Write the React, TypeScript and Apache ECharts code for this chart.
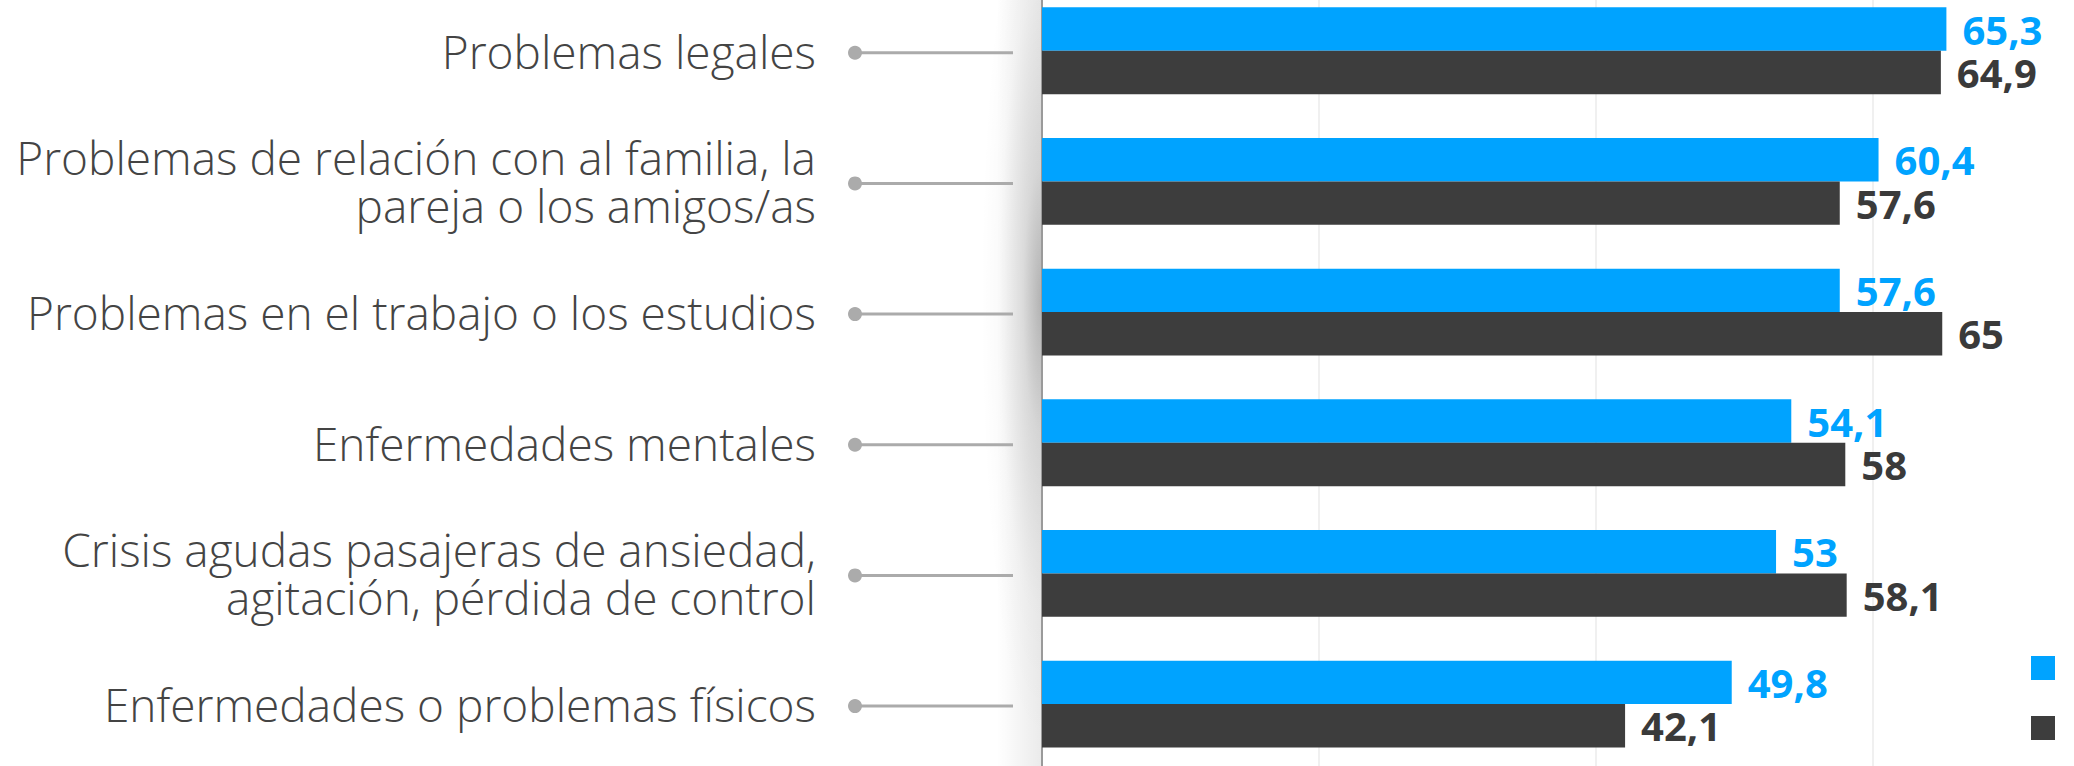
import React, { useEffect, useRef } from 'react';
import * as echarts from 'echarts';

const categories = [
  'Problemas legales',
  'Problemas de relación con al familia, la\npareja o los amigos/as',
  'Problemas en el trabajo o los estudios',
  'Enfermedades mentales',
  'Crisis agudas pasajeras de ansiedad,\nagitación, pérdida de control',
  'Enfermedades o problemas físicos',
];
const seriesNames = ['Serie 1', 'Serie 2'];
const valuesBlue = [65.3, 60.4, 57.6, 54.1, 53, 49.8];
const valuesDark = [64.9, 57.6, 65, 58, 58.1, 42.1];
const axisMin = 0;
const axisMax = 80;
const axisStep = 20;

const BLUE = '#00a3ff';
const DARK = '#3d3d3d';

const fmt = (p: any) => String(p.value).replace('.', ',');

export default function App() {
  const ref = useRef<HTMLDivElement>(null);
  useEffect(() => {
    if (!ref.current) return;
    document.body.style.margin = '0';
    const chart = echarts.init(ref.current, null, { renderer: 'svg' });
    const labelStyle = (color: string) => ({
      show: true,
      position: 'right',
      distance: 16,
      formatter: fmt,
      fontFamily: 'Open Sans',
      fontWeight: 700,
      fontSize: 40,
      lineHeight: 40,
      color,
    });
    chart.setOption({
      animation: false,
      backgroundColor: '#ffffff',
      grid: {
        left: 1042,
        top: -14.6,
        width: 1108,
        height: 784,
        containLabel: false,
        outerBoundsMode: 'none',
      },
      xAxis: {
        type: 'value',
        min: axisMin,
        max: axisMax,
        interval: axisStep,
        axisLabel: { show: false },
        axisLine: { show: false },
        axisTick: { show: false },
        splitLine: { show: true, lineStyle: { color: '#ebebeb', width: 1.5 } },
      },
      yAxis: {
        type: 'category',
        inverse: true,
        data: categories,
        axisLine: { show: true, lineStyle: { color: '#9a9a9a', width: 2 } },
        axisTick: { show: false },
        axisLabel: {
          margin: 226,
          fontFamily: 'Open Sans',
          fontWeight: 300,
          fontSize: 46,
          lineHeight: 48,
          color: '#444444',
          align: 'right',
          verticalAlign: 'middle',
          padding: [0, 0, 14, 0],
        },
      },
      legend: {
        data: seriesNames,
        orient: 'vertical',
        left: 2026,
        top: 651,
        itemWidth: 24,
        itemHeight: 24,
        itemGap: 36,
        icon: 'rect',
        formatter: () => '',
        selectedMode: false,
      },
      series: [
        {
          name: seriesNames[0],
          type: 'bar',
          data: valuesBlue,
          barWidth: 43.4,
          barGap: '0%',
          itemStyle: { color: BLUE },
          label: labelStyle(BLUE),
        },
        {
          name: seriesNames[1],
          type: 'bar',
          data: valuesDark,
          barWidth: 43.4,
          barGap: '0%',
          itemStyle: { color: DARK },
          label: labelStyle('#3a3a3a'),
        },
      ],
    });

    const axisX = chart.convertToPixel({ xAxisIndex: 0 }, 0) as number;
    const graphics: any[] = [
      {
        type: 'rect',
        z: -10,
        shape: { x: axisX - 45, y: 0, width: 44, height: 766 },
        style: {
          fill: new echarts.graphic.LinearGradient(0, 0, 1, 0, [
            { offset: 0, color: 'rgba(0,0,0,0)' },
            { offset: 1, color: 'rgba(0,0,0,0.08)' },
          ]),
        },
        silent: true,
      },
      {
        type: 'rect',
        z: -9,
        shape: { x: axisX - 121, y: -140, width: 120, height: 880 },
        style: {
          fill: new echarts.graphic.RadialGradient(1, 0.5, 0.5, [
            { offset: 0, color: 'rgba(0,0,0,0.24)' },
            { offset: 0.3, color: 'rgba(0,0,0,0.1)' },
            { offset: 0.7, color: 'rgba(0,0,0,0.02)' },
            { offset: 1, color: 'rgba(0,0,0,0)' },
          ]),
        },
        silent: true,
      },
    ];
    categories.forEach((_, i) => {
      const y = (chart.convertToPixel({ yAxisIndex: 0 }, i) as number) + 2;
      graphics.push({
        type: 'line',
        shape: { x1: 855, y1: y, x2: 1013, y2: y },
        style: { stroke: '#ababab', lineWidth: 3 },
        silent: true,
      });
      graphics.push({
        type: 'circle',
        shape: { cx: 855, cy: y, r: 7 },
        style: { fill: '#ababab' },
        silent: true,
      });
    });
    chart.setOption({ graphic: graphics });

    return () => chart.dispose();
  }, []);
  return (
    <div
      ref={ref}
      style={{ position: 'fixed', left: 0, top: 0, width: 2074, height: 766 }}
    />
  );
}
